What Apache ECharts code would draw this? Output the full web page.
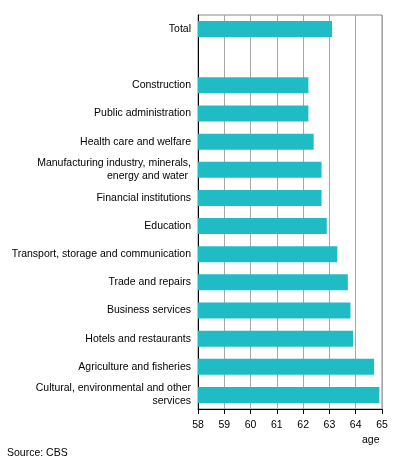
<!DOCTYPE html>
<html>
<head>
<meta charset="utf-8">
<script src="https://cdn.jsdelivr.net/npm/echarts@6/dist/echarts.min.js"></script>
<style>
  html, body { margin: 0; padding: 0; background: #fff; }
  #chart { width: 396px; height: 466px; }
</style>
</head>
<body>
<div id="chart"></div>
<script>
// sectors, top to bottom (empty entry = gap under Total)
var sectors = [
    "Total",
    "",
    "Construction",
    "Public administration",
    "Health care and welfare",
    "Manufacturing industry, minerals,\nenergy and water ",
    "Financial institutions",
    "Education",
    "Transport, storage and communication",
    "Trade and repairs",
    "Business services",
    "Hotels and restaurants",
    "Agriculture and fisheries",
    "Cultural, environmental and other\nservices"
];

// average age
var ages = [63.1, null, 62.2, 62.2, 62.4, 62.7, 62.7, 62.9, 63.3, 63.7, 63.8, 63.9, 64.7, 64.9];

var xMin = 58;
var xMax = 65;

var fontFamily = "Liberation Sans, Arial, sans-serif";

var chart = echarts.init(document.getElementById("chart"), null, { renderer: "canvas" });

chart.setOption({
    animation: false,
    grid: {
        left: 198,
        right: 14,
        top: 15,
        bottom: 57,
        show: true,
        borderColor: "#8a8a8a",
        borderWidth: 1,
        outerBoundsMode: "none"
    },
    xAxis: {
        type: "value",
        min: xMin,
        max: xMax,
        interval: 1,
        axisLine: { show: true, lineStyle: { color: "#000", width: 1 } },
        axisTick: { show: true, length: 5, lineStyle: { color: "#000" } },
        axisLabel: { color: "#000", fontSize: 10.5, fontFamily: fontFamily, margin: 11 },
        splitLine: { show: true, lineStyle: { color: "#a8a8a8", width: 1 } }
    },
    yAxis: {
        type: "category",
        data: sectors,
        inverse: true,
        axisLine: { show: true, lineStyle: { color: "#000", width: 1 } },
        axisTick: { show: false },
        axisLabel: {
            color: "#000",
            fontSize: 10.5,
            fontFamily: fontFamily,
            margin: 7,
            lineHeight: 13,
            interval: 0
        },
        splitLine: { show: false }
    },
    series: [
        {
            type: "bar",
            data: ages,
            barWidth: 16,
            itemStyle: { color: "#1fbcc6" },
            silent: true
        }
    ],
    graphic: [
        {
            type: "text",
            left: 362,
            top: 435,
            style: { text: "age", fill: "#000", font: "10.5px " + fontFamily }
        },
        {
            type: "text",
            left: 7,
            top: 448,
            style: { text: "Source: CBS", fill: "#000", font: "10.5px " + fontFamily }
        }
    ]
});
</script>
</body>
</html>
